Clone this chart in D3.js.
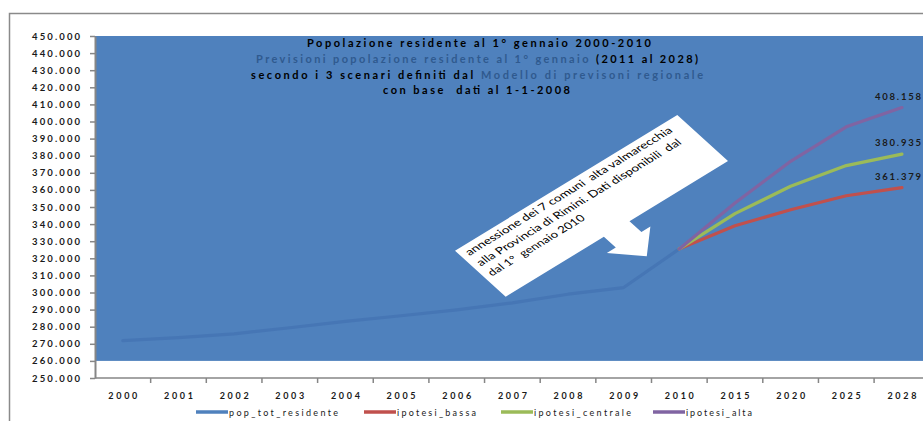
<!DOCTYPE html>
<html><head><meta charset="utf-8">
<script src="https://cdn.jsdelivr.net/npm/d3@7"></script>
<style>
html,body{margin:0;padding:0;background:#fff;overflow:hidden}
svg{display:block}
text{font-family:Lato,'Open Sans',sans-serif;white-space:pre}
</style></head><body>
<svg id="chart" width="923" height="421"></svg>
<script>
// ---------- DATA ----------
const categories = ["2000","2001","2002","2003","2004","2005","2006","2007","2008","2009","2010","2015","2020","2025","2028"];
const popTotResidente = [271900, 273600, 275800, 279400, 283100, 286400, 289800, 293900, 299000, 302900, 325500, null, null, null, null];
const ipotesiBassa    = [null, null, null, null, null, null, null, null, null, null, 325500, 339000, 348400, 356600, 361379];
const ipotesiCentrale = [null, null, null, null, null, null, null, null, null, null, 325500, 346100, 362100, 374200, 380935];
const ipotesiAlta     = [null, null, null, null, null, null, null, null, null, null, 325500, 352300, 376700, 396900, 408158];
const yTicks = d3.range(250000, 450001, 10000);
const seriesNames = ["pop_tot_residente", "ipotesi_bassa", "ipotesi_centrale", "ipotesi_alta"];
const titleLines = [
  [["Popolazione residente al 1° gennaio 2000-2010", "k"]],
  [["Previsioni popolazione residente al 1° gennaio ", "b"], ["(2011 al 2028)", "k"]],
  [["secondo i 3 scenari definiti dal ", "k"], ["Modello di previsoni regionale", "b"]],
  [["con base  dati al 1-1-2008", "k"]]
];
const calloutLines = [
  "annessione dei 7 comuni  alta valmarecchia",
  "alla Provincia di Rimini. Dati disponibili  dal",
  "dal 1°  gennaio 2010"
];

// ---------- LAYOUT / STYLE ----------
const W = 923, H = 421;
const svg = d3.select("#chart");
const colors = ["#4676B5", "#C0504D", "#9BBB59", "#8064A2"];
const series = [popTotResidente, ipotesiBassa, ipotesiCentrale, ipotesiAlta];
const axisColor = "#868686";
const darkBlue = "#2F5A8F";

const x = d3.scaleBand().domain(categories).range([95, 95 + 15 * 55.65]);
const y = d3.scaleLinear().domain([250000, 450000]).range([378, 36]);
const loc = d3.formatLocale({decimal: ",", thousands: ".", grouping: [3], currency: ["", ""]});
const fmt = loc.format(",");

// outer frame
svg.append("path").attr("d", `M9.5,${H} V13.5 H${W}`)
  .attr("fill", "none").attr("stroke", "#8a8a8a").attr("stroke-width", 1.5);

// blue background panel
svg.append("rect")
  .attr("x", x.range()[0]).attr("y", y(450000))
  .attr("width", W - x.range()[0]).attr("height", y(260000) - y(450000))
  .attr("fill", "#4F81BD");

// title
const titleY = [47, 63, 78.5, 94];
const titleLen = [344, 442, 452, 187];
const titleX = [479, 477, 477, 476.5];
titleLines.forEach((parts, i) => {
  const t = svg.append("text")
    .attr("x", titleX[i]).attr("y", titleY[i])
    .attr("text-anchor", "middle")
    .attr("font-size", 11).attr("font-weight", "bold")
    .attr("textLength", titleLen[i]).attr("lengthAdjust", "spacing");
  parts.forEach(p => t.append("tspan").text(p[0]).attr("fill", p[1] === "b" ? darkBlue : "#000"));
});

// callout (down arrow callout, skewed/rotated)
const cw = 260.4, ch = 68.4;
const callout = svg.append("g")
  .attr("transform", "matrix(0.8537,-0.5211,0.7412,0.6725,455,250.7)");
callout.append("path")
  .attr("d", `M0,0 H${cw} V${ch} H145 V84.5 H155.5 L130,109 L104.5,84.5 H115 V${ch} H0 Z`)
  .attr("fill", "#fff");
const cY = [12.5, 28, 43], cLen = [239, 236, 110];
calloutLines.forEach((s, i) => {
  callout.append("text").attr("x", 6).attr("y", cY[i])
    .attr("font-size", 11).attr("fill", "#000")
    .attr("textLength", cLen[i]).attr("lengthAdjust", "spacingAndGlyphs")
    .text(s);
});

// lines
const line = d3.line()
  .defined(d => d.v != null)
  .x(d => x(d.c) + x.bandwidth() / 2)
  .y(d => y(d.v));
series.forEach((s, i) => {
  svg.append("path")
    .datum(categories.map((c, j) => ({c, v: s[j]})))
    .attr("d", line)
    .attr("fill", "none").attr("stroke", colors[i])
    .attr("stroke-width", 3.2).attr("stroke-linejoin", "round").attr("stroke-linecap", "round");
});

// data labels at last point of forecast series (kept inside the page)
[1, 2, 3].forEach(i => {
  const s = series[i];
  const last = s.length - 1;
  svg.append("text")
    .attr("x", W - 2)
    .attr("y", y(s[last]) - 8)
    .attr("text-anchor", "end").attr("font-size", 9.5).attr("font-weight", "bold")
    .attr("fill", "#1a1a1a")
    .attr("textLength", 46).attr("lengthAdjust", "spacing")
    .text(fmt(s[last]));
});

// y axis
const yAxis = svg.append("g").attr("transform", `translate(${x.range()[0]},0)`)
  .call(d3.axisLeft(y).tickValues(yTicks).tickSize(5).tickSizeOuter(0).tickPadding(10).tickFormat(fmt));
yAxis.select(".domain").attr("stroke", axisColor).attr("stroke-width", 2);
yAxis.selectAll(".tick line").attr("stroke", axisColor).attr("stroke-width", 1.5);
yAxis.selectAll(".tick text")
  .attr("font-family", "Lato,'Open Sans',sans-serif")
  .attr("font-size", 9.5).attr("font-weight", "bold").attr("fill", "#1a1a1a")
  .attr("textLength", 48).attr("lengthAdjust", "spacing");

// x axis
const x0 = x.range()[0];
const xAxis = svg.append("g").attr("transform", `translate(0,${y(250000)})`)
  .call(d3.axisBottom(x).tickSize(0).tickSizeOuter(0).tickPadding(15));
xAxis.select(".domain").attr("stroke", axisColor).attr("stroke-width", 1.5)
  .attr("d", `M${x0},0H${W}`);
xAxis.selectAll(".tick text")
  .attr("font-family", "Lato,'Open Sans',sans-serif")
  .attr("font-size", 9).attr("font-weight", "bold").attr("fill", "#1a1a1a")
  .attr("textLength", 29).attr("lengthAdjust", "spacing");
xAxis.selectAll(".boundary")
  .data(categories.slice(1).map(c => x(c)))
  .enter().append("line").attr("class", "boundary")
  .attr("x1", d => d).attr("x2", d => d).attr("y1", 0).attr("y2", 5)
  .attr("stroke", axisColor).attr("stroke-width", 1.5);

// legend
const legX = [196, 364, 501, 653];
const legLen = [109, 79, 97, 66];
const legY = 412;
seriesNames.forEach((n, i) => {
  svg.append("line")
    .attr("x1", legX[i]).attr("x2", legX[i] + 32)
    .attr("y1", legY).attr("y2", legY)
    .attr("stroke", i === 0 ? "#4F81BD" : colors[i]).attr("stroke-width", 3.5);
  svg.append("text")
    .attr("x", legX[i] + 33).attr("y", legY + 3.5)
    .attr("font-size", 9).attr("fill", "#1a1a1a")
    .attr("textLength", legLen[i]).attr("lengthAdjust", "spacing")
    .text(n);
});
</script>
</body></html>
